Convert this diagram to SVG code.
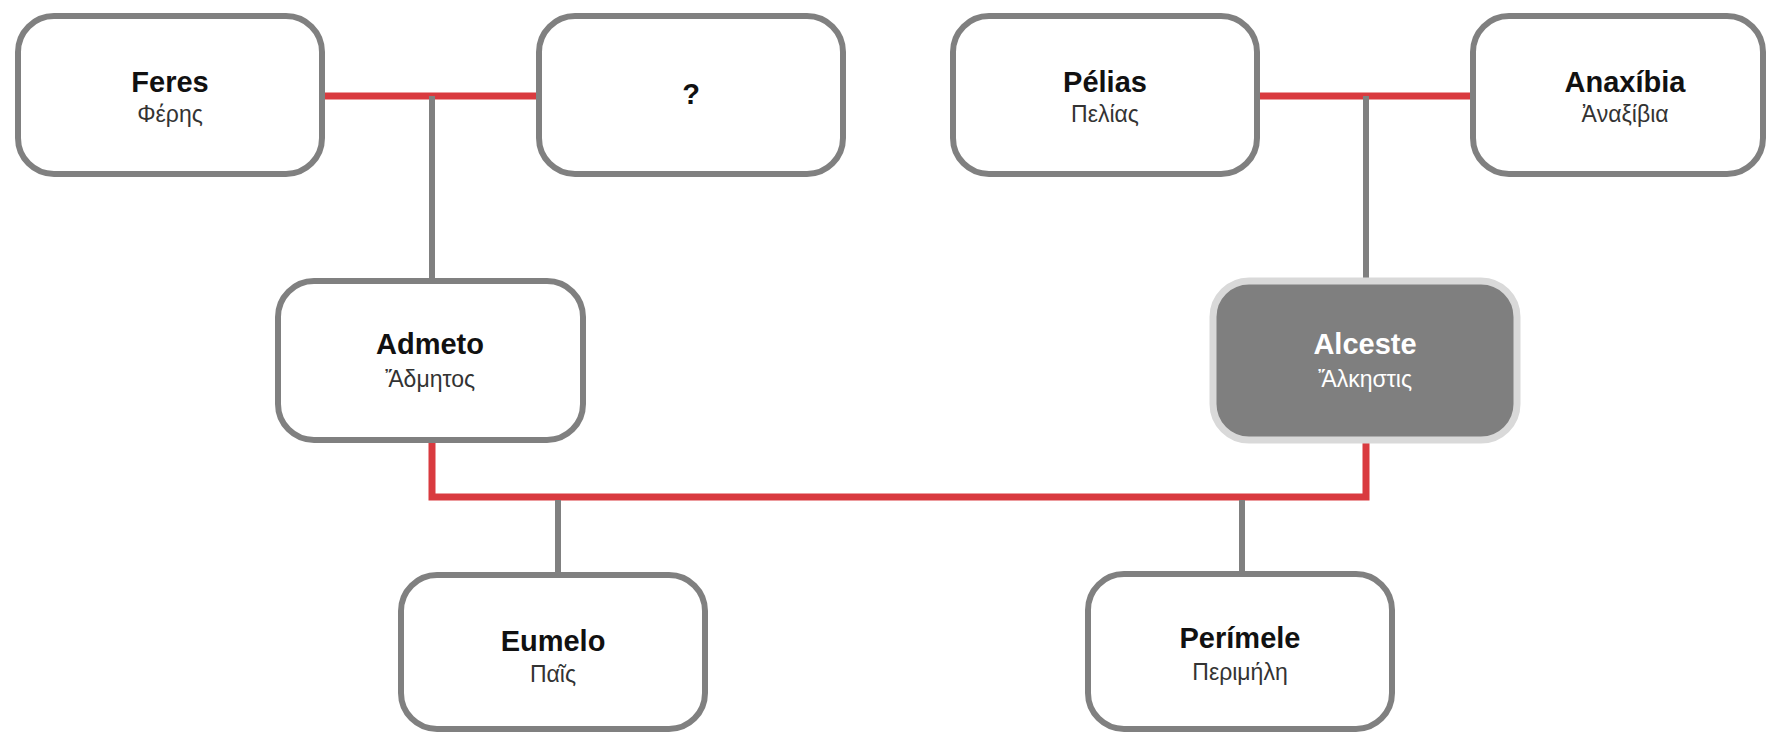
<svg xmlns="http://www.w3.org/2000/svg" width="1767" height="732" viewBox="0 0 1767 732">
<style>
.box{fill:#ffffff;stroke:#808080;stroke-width:6}
.hl{fill:#7f7f7f;stroke:#d9d9d9;stroke-width:7}
.t{font-family:"Liberation Sans",Arial,sans-serif;font-weight:bold;font-size:29px;fill:#111;text-anchor:middle}
.g{font-family:"Liberation Sans",Arial,sans-serif;font-size:23px;fill:#333;text-anchor:middle}
.w{fill:#ffffff}
.red{fill:none;stroke:#d93a3f;stroke-width:7}
.gr{fill:none;stroke:#808080;stroke-width:6}
</style>
<rect width="1767" height="732" fill="#ffffff"/>
<g id="connectors">
<line class="red" x1="325" y1="96" x2="536" y2="96"/>
<line class="gr" x1="432" y1="96" x2="432" y2="278"/>
<line class="red" x1="1260" y1="96" x2="1470" y2="96"/>
<line class="gr" x1="1366" y1="96" x2="1366" y2="278"/>
<path class="red" d="M432 443 V497 H1366 V443"/>
<line class="gr" x1="558" y1="500" x2="558" y2="572"/>
<line class="gr" x1="1242" y1="500" x2="1242" y2="572"/>
</g>
<g id="feres">
<rect class="box" x="18" y="16" width="304" height="158" rx="36"/>
<text class="t" x="170" y="92">Feres</text>
<text class="g" x="170" y="122">Φέρης</text>
</g>
<g id="unknown">
<rect class="box" x="539" y="16" width="304" height="158" rx="36"/>
<text class="t" x="691" y="104">?</text>
</g>
<g id="pelias">
<rect class="box" x="953" y="16" width="304" height="158" rx="36"/>
<text class="t" x="1105" y="92">Pélias</text>
<text class="g" x="1105" y="122">Πελίας</text>
</g>
<g id="anaxibia">
<rect class="box" x="1473" y="16" width="290" height="158" rx="36"/>
<text class="t" x="1625" y="92">Anaxíbia</text>
<text class="g" x="1625" y="122">Ἀναξίβια</text>
</g>
<g id="admeto">
<rect class="box" x="278" y="281" width="305" height="159" rx="36"/>
<text class="t" x="430" y="354">Admeto</text>
<text class="g" x="430" y="387">Ἄδμητος</text>
</g>
<g id="alceste">
<rect class="hl" x="1213" y="281" width="304" height="159" rx="36"/>
<text class="t w" x="1365" y="354">Alceste</text>
<text class="g w" x="1365" y="387">Ἄλκηστις</text>
</g>
<g id="eumelo">
<rect class="box" x="401" y="575" width="304" height="154" rx="36"/>
<text class="t" x="553" y="651">Eumelo</text>
<text class="g" x="553" y="682">Παῖς</text>
</g>
<g id="perimele">
<rect class="box" x="1088" y="574" width="304" height="155" rx="36"/>
<text class="t" x="1240" y="648">Perímele</text>
<text class="g" x="1240" y="680">Περιμήλη</text>
</g>
</svg>
